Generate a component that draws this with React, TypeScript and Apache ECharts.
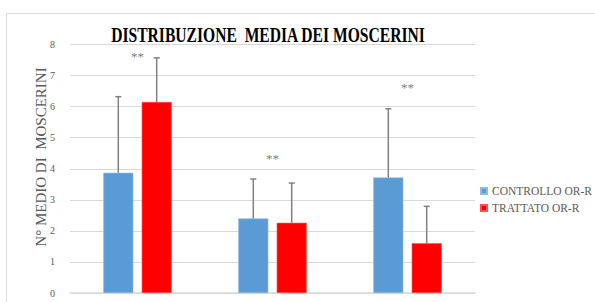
import React, { useEffect, useRef } from "react";
import * as echarts from "echarts";

const categories = ["1", "2", "3"];
const seriesNames = ["CONTROLLO OR-R", "TRATTATO OR-R"];
const controlMeans = [3.87, 2.4, 3.72];
const controlSD = [2.45, 1.27, 2.21];
const treatedMeans = [6.15, 2.26, 1.6];
const treatedSD = [1.42, 1.28, 1.19];
const starHeights = [7.62, 4.33, 6.62];
const starLabels = ["**", "**", "**"];
const yTicks = [0, 8, 1];

const FONT = "Liberation Serif";
const BLUE = "#5b9bd5";
const RED = "#ff0000";
const GRAY = "#595959";
const BAR_W = 30;
const BAR_GAP = 8.4;

function errorSeries(means: number[], sds: number[], side: number) {
  return {
    type: "custom",
    z: 5,
    silent: true,
    encode: { x: 0, y: [1, 2] },
    data: means.map((m, i) => [i, m, m + sds[i]]),
    renderItem: (params: any, api: any) => {
      const base = api.coord([api.value(0), api.value(1)]);
      const top = api.coord([api.value(0), api.value(2)]);
      const x = base[0] + side * (BAR_W + BAR_GAP) / 2;
      const style = { stroke: "#808080", lineWidth: 1.5 };
      return {
        type: "group",
        children: [
          { type: "line", shape: { x1: x, y1: base[1], x2: x, y2: top[1] }, style },
          { type: "line", shape: { x1: x - 3, y1: top[1], x2: x + 3, y2: top[1] }, style },
        ],
      };
    },
  };
}

export default function App() {
  const ref = useRef<HTMLDivElement>(null);
  useEffect(() => {
    document.body.style.margin = "0";
    const chart = echarts.init(ref.current!, undefined, { renderer: "svg" });
    chart.setOption({
      animation: false,
      backgroundColor: "#ffffff",
      textStyle: { fontFamily: FONT },
      grid: { left: 70, right: 120, top: 44.5, bottom: 9, containLabel: false },
      graphic: [
        {
          type: "rect",
          shape: { x: 6.5, y: 13.5, width: 700, height: 400 },
          style: { fill: "none", stroke: "#d9d9d9", lineWidth: 1 },
          silent: true,
        },
        {
          type: "text",
          x: 268,
          y: 35,
          scaleX: 0.78,
          style: {
            text: "DISTRIBUZIONE  MEDIA DEI MOSCERINI",
            fontFamily: FONT,
            fontSize: 20,
            fontWeight: "bold",
            fill: "#000000",
            textAlign: "center",
            textVerticalAlign: "middle",
          },
        },
        {
          type: "text",
          x: 41,
          y: 157,
          rotation: Math.PI / 2,
          style: {
            text: "N° MEDIO DI  MOSCERINI",
            fontFamily: FONT,
            fontSize: 15,
            fill: GRAY,
            textAlign: "center",
            textVerticalAlign: "middle",
          },
        },
      ],
      legend: {
        data: seriesNames,
        orient: "vertical",
        left: 475,
        top: 180,
        itemWidth: 6,
        itemHeight: 6,
        itemGap: 5,
        icon: "rect",
        textStyle: { fontFamily: FONT, fontSize: 11.5, color: GRAY },
      },
      xAxis: {
        type: "category",
        data: categories,
        axisLine: { show: true, lineStyle: { color: "#d9d9d9", width: 1.5 } },
        axisTick: { show: false },
        axisLabel: { show: false },
      },
      yAxis: {
        type: "value",
        min: yTicks[0],
        max: yTicks[1],
        interval: yTicks[2],
        axisLine: { show: false },
        axisTick: { show: false },
        axisLabel: { fontFamily: FONT, fontSize: 10, color: GRAY, margin: 15 },
        splitLine: { lineStyle: { color: "#d9d9d9", width: 1.2 } },
      },
      series: [
        {
          name: seriesNames[0],
          type: "bar",
          data: controlMeans,
          barWidth: BAR_W,
          barGap: "28%",
          itemStyle: { color: BLUE, borderColor: "#8fbbe3", borderWidth: 0.6 },
        },
        {
          name: seriesNames[1],
          type: "bar",
          data: treatedMeans,
          barWidth: BAR_W,
          barGap: "28%",
          itemStyle: { color: RED, borderColor: "#ff5050", borderWidth: 0.6 },
        },
        errorSeries(controlMeans, controlSD, -1),
        errorSeries(treatedMeans, treatedSD, 1),
        {
          type: "scatter",
          data: starHeights,
          symbolSize: 1,
          silent: true,
          itemStyle: { color: "rgba(0,0,0,0)" },
          label: {
            show: true,
            position: "inside",
            formatter: (p: any) => starLabels[p.dataIndex],
            fontFamily: FONT,
            fontSize: 13,
            color: GRAY,
          },
        },
      ],
    });
    return () => chart.dispose();
  }, []);
  return (
    <div
      ref={ref}
      style={{ position: "absolute", left: 0, top: 0, width: 595, height: 302 }}
    />
  );
}
